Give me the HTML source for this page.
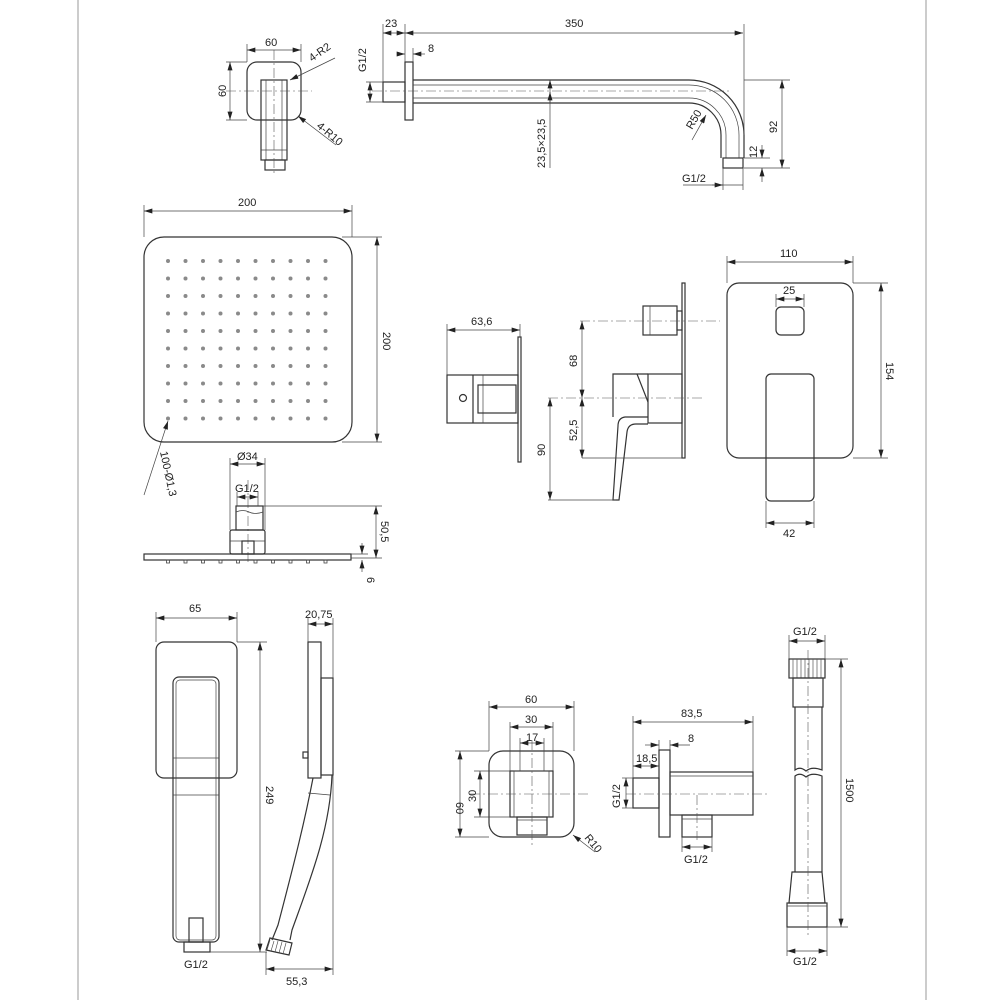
<!DOCTYPE html>
<html><head><meta charset="utf-8"><style>
html,body{margin:0;padding:0;background:#fff}
svg{display:block}
text{font-family:"Liberation Sans",sans-serif;font-size:11px;fill:#222}
.s{fill:none;stroke:#333;stroke-width:1.2}
.t{fill:none;stroke:#444;stroke-width:0.7}
.c{fill:none;stroke:#555;stroke-width:0.6;stroke-dasharray:10 3 2 3}
</style></head><body>
<svg width="1000" height="1000" viewBox="0 0 1000 1000" xmlns="http://www.w3.org/2000/svg">
<defs>
<marker id="a" viewBox="0 0 10 6" refX="10" refY="3" markerWidth="9" markerHeight="5" orient="auto-start-reverse" markerUnits="userSpaceOnUse"><path d="M0,0 L10,3 L0,6 z" fill="#222"/></marker>
</defs>
<g>
<line x1="78" y1="0" x2="78" y2="1000" stroke="#999" stroke-width="1"/>
<line x1="926" y1="0" x2="926" y2="1000" stroke="#999" stroke-width="1"/>
</g>

<!-- wall connector top-left -->
<rect class="s" x="247" y="62" width="54" height="58" rx="10"/>
<rect class="s" x="261" y="80" width="26" height="80"/>
<line class="t" x1="266" y1="80" x2="266" y2="160"/><line class="t" x1="282" y1="80" x2="282" y2="160"/>
<line class="t" x1="261" y1="150" x2="287" y2="150"/>
<rect class="s" x="265" y="160" width="20" height="10"/>
<line class="c" x1="274" y1="50" x2="274" y2="176"/>
<line class="c" x1="226" y1="91" x2="312" y2="91"/>
<line class="t" x1="247" y1="62" x2="247" y2="44"/><line class="t" x1="301" y1="62" x2="301" y2="44"/>
<line class="t" x1="247" y1="50" x2="301" y2="50" marker-start="url(#a)" marker-end="url(#a)"/>
<text x="265" y="46">60</text>
<line class="t" x1="247" y1="62" x2="226" y2="62"/><line class="t" x1="247" y1="120" x2="226" y2="120"/>
<line class="t" x1="230" y1="62" x2="230" y2="120" marker-start="url(#a)" marker-end="url(#a)"/>
<text transform="translate(226,97) rotate(-90)">60</text>
<line class="t" x1="335" y1="58" x2="290" y2="80" marker-end="url(#a)"/>
<text transform="translate(312,62) rotate(-35)">4-R2</text>
<line class="t" x1="336" y1="145" x2="298" y2="116" marker-end="url(#a)"/>
<text transform="translate(316,127) rotate(40)">4-R10</text>

<!-- shower arm -->
<rect class="s" x="383" y="82" width="22" height="20"/>
<rect class="s" x="405" y="62" width="8" height="58"/>
<path class="s" d="M413,80 H689 A55,55 0 0 1 744,135 V158"/>
<path class="s" d="M413,103 H689 A32,32 0 0 1 721,135 V158"/>
<path class="t" d="M413,85 H689 A50,50 0 0 1 739,135 V158"/>
<path class="t" d="M413,98 H689 A37,37 0 0 1 726,135 V158"/>
<rect class="s" x="723" y="158" width="20" height="10"/>
<line class="c" x1="372" y1="91" x2="730" y2="91"/>
<line class="t" x1="383" y1="82" x2="383" y2="24"/><line class="t" x1="405" y1="62" x2="405" y2="24"/>
<line class="t" x1="744" y1="135" x2="744" y2="24"/>
<line class="t" x1="383" y1="33" x2="405" y2="33" marker-start="url(#a)" marker-end="url(#a)"/>
<line class="t" x1="405" y1="33" x2="743" y2="33" marker-start="url(#a)" marker-end="url(#a)"/>
<text x="385" y="27">23</text><text x="565" y="27">350</text>
<line class="t" x1="413" y1="62" x2="413" y2="48"/>
<line class="t" x1="397" y1="54" x2="405" y2="54" marker-end="url(#a)"/>
<line class="t" x1="425" y1="54" x2="413" y2="54" marker-end="url(#a)"/>
<text x="428" y="52">8</text>
<line class="t" x1="383" y1="82" x2="366" y2="82"/><line class="t" x1="383" y1="102" x2="366" y2="102"/>
<line class="t" x1="370" y1="82" x2="370" y2="102" marker-start="url(#a)" marker-end="url(#a)"/>
<text transform="translate(366,72) rotate(-90)">G1/2</text>
<line class="t" x1="550" y1="80" x2="550" y2="168" marker-start="url(#a)"/>
<line class="t" x1="550" y1="103" x2="550" y2="92" marker-end="url(#a)"/>
<text transform="translate(545,168) rotate(-90)">23,5×23,5</text>
<line class="t" x1="692" y1="140" x2="706" y2="115" marker-end="url(#a)"/>
<text transform="translate(692,130) rotate(-60)">R50</text>
<line class="t" x1="744" y1="80" x2="790" y2="80"/><line class="t" x1="744" y1="168" x2="790" y2="168"/>
<line class="t" x1="744" y1="158" x2="770" y2="158"/>
<line class="t" x1="782" y1="80" x2="782" y2="168" marker-start="url(#a)" marker-end="url(#a)"/>
<text transform="translate(777,133) rotate(-90)">92</text>
<line class="t" x1="762" y1="145" x2="762" y2="158" marker-end="url(#a)"/>
<line class="t" x1="762" y1="182" x2="762" y2="168" marker-end="url(#a)"/>
<text transform="translate(757,158) rotate(-90)">12</text>
<line class="t" x1="723" y1="168" x2="723" y2="190"/><line class="t" x1="743" y1="168" x2="743" y2="190"/>
<line class="t" x1="683" y1="185" x2="743" y2="185"/>
<line class="t" x1="712" y1="185" x2="723" y2="185" marker-end="url(#a)"/>
<text x="682" y="182">G1/2</text>

<!-- head shower -->
<rect class="s" x="144" y="237" width="208" height="205" rx="20"/>
<g fill="#8a8a8a">
<circle cx="168" cy="261" r="2"/><circle cx="185.5" cy="261" r="2"/><circle cx="203" cy="261" r="2"/><circle cx="220.5" cy="261" r="2"/><circle cx="238" cy="261" r="2"/><circle cx="255.5" cy="261" r="2"/><circle cx="273" cy="261" r="2"/><circle cx="290.5" cy="261" r="2"/><circle cx="308" cy="261" r="2"/><circle cx="325.5" cy="261" r="2"/>
<circle cx="168" cy="278.5" r="2"/><circle cx="185.5" cy="278.5" r="2"/><circle cx="203" cy="278.5" r="2"/><circle cx="220.5" cy="278.5" r="2"/><circle cx="238" cy="278.5" r="2"/><circle cx="255.5" cy="278.5" r="2"/><circle cx="273" cy="278.5" r="2"/><circle cx="290.5" cy="278.5" r="2"/><circle cx="308" cy="278.5" r="2"/><circle cx="325.5" cy="278.5" r="2"/>
<circle cx="168" cy="296" r="2"/><circle cx="185.5" cy="296" r="2"/><circle cx="203" cy="296" r="2"/><circle cx="220.5" cy="296" r="2"/><circle cx="238" cy="296" r="2"/><circle cx="255.5" cy="296" r="2"/><circle cx="273" cy="296" r="2"/><circle cx="290.5" cy="296" r="2"/><circle cx="308" cy="296" r="2"/><circle cx="325.5" cy="296" r="2"/>
<circle cx="168" cy="313.5" r="2"/><circle cx="185.5" cy="313.5" r="2"/><circle cx="203" cy="313.5" r="2"/><circle cx="220.5" cy="313.5" r="2"/><circle cx="238" cy="313.5" r="2"/><circle cx="255.5" cy="313.5" r="2"/><circle cx="273" cy="313.5" r="2"/><circle cx="290.5" cy="313.5" r="2"/><circle cx="308" cy="313.5" r="2"/><circle cx="325.5" cy="313.5" r="2"/>
<circle cx="168" cy="331" r="2"/><circle cx="185.5" cy="331" r="2"/><circle cx="203" cy="331" r="2"/><circle cx="220.5" cy="331" r="2"/><circle cx="238" cy="331" r="2"/><circle cx="255.5" cy="331" r="2"/><circle cx="273" cy="331" r="2"/><circle cx="290.5" cy="331" r="2"/><circle cx="308" cy="331" r="2"/><circle cx="325.5" cy="331" r="2"/>
<circle cx="168" cy="348.5" r="2"/><circle cx="185.5" cy="348.5" r="2"/><circle cx="203" cy="348.5" r="2"/><circle cx="220.5" cy="348.5" r="2"/><circle cx="238" cy="348.5" r="2"/><circle cx="255.5" cy="348.5" r="2"/><circle cx="273" cy="348.5" r="2"/><circle cx="290.5" cy="348.5" r="2"/><circle cx="308" cy="348.5" r="2"/><circle cx="325.5" cy="348.5" r="2"/>
<circle cx="168" cy="366" r="2"/><circle cx="185.5" cy="366" r="2"/><circle cx="203" cy="366" r="2"/><circle cx="220.5" cy="366" r="2"/><circle cx="238" cy="366" r="2"/><circle cx="255.5" cy="366" r="2"/><circle cx="273" cy="366" r="2"/><circle cx="290.5" cy="366" r="2"/><circle cx="308" cy="366" r="2"/><circle cx="325.5" cy="366" r="2"/>
<circle cx="168" cy="383.5" r="2"/><circle cx="185.5" cy="383.5" r="2"/><circle cx="203" cy="383.5" r="2"/><circle cx="220.5" cy="383.5" r="2"/><circle cx="238" cy="383.5" r="2"/><circle cx="255.5" cy="383.5" r="2"/><circle cx="273" cy="383.5" r="2"/><circle cx="290.5" cy="383.5" r="2"/><circle cx="308" cy="383.5" r="2"/><circle cx="325.5" cy="383.5" r="2"/>
<circle cx="168" cy="401" r="2"/><circle cx="185.5" cy="401" r="2"/><circle cx="203" cy="401" r="2"/><circle cx="220.5" cy="401" r="2"/><circle cx="238" cy="401" r="2"/><circle cx="255.5" cy="401" r="2"/><circle cx="273" cy="401" r="2"/><circle cx="290.5" cy="401" r="2"/><circle cx="308" cy="401" r="2"/><circle cx="325.5" cy="401" r="2"/>
<circle cx="168" cy="418.5" r="2"/><circle cx="185.5" cy="418.5" r="2"/><circle cx="203" cy="418.5" r="2"/><circle cx="220.5" cy="418.5" r="2"/><circle cx="238" cy="418.5" r="2"/><circle cx="255.5" cy="418.5" r="2"/><circle cx="273" cy="418.5" r="2"/><circle cx="290.5" cy="418.5" r="2"/><circle cx="308" cy="418.5" r="2"/><circle cx="325.5" cy="418.5" r="2"/>
</g>
<line class="t" x1="144" y1="237" x2="144" y2="205"/><line class="t" x1="352" y1="237" x2="352" y2="205"/>
<line class="t" x1="144" y1="211" x2="352" y2="211" marker-start="url(#a)" marker-end="url(#a)"/>
<text x="238" y="206">200</text>
<line class="t" x1="342" y1="237" x2="382" y2="237"/><line class="t" x1="342" y1="442" x2="382" y2="442"/>
<line class="t" x1="377" y1="237" x2="377" y2="442" marker-start="url(#a)" marker-end="url(#a)"/>
<text transform="translate(383,332) rotate(90)">200</text>
<line class="t" x1="144" y1="495" x2="168" y2="421" marker-end="url(#a)"/>
<text transform="translate(160,452) rotate(78)">100-Ø1,3</text>
<!-- connector -->
<line class="c" x1="248" y1="480" x2="248" y2="565"/>
<rect class="s" x="236" y="506" width="27" height="24"/>
<path class="t" d="M236,512 Q243,509 249,512 T263,512"/>
<rect class="s" x="230" y="530" width="35" height="24" rx="2"/>
<line class="t" x1="230" y1="541" x2="265" y2="541"/>
<rect class="s" x="242" y="541" width="12" height="13"/>
<rect class="s" x="144" y="554" width="207" height="6"/>
<g fill="none" stroke="#444" stroke-width="0.8">
<rect x="166.5" y="560" width="3" height="3"/><rect x="184" y="560" width="3" height="3"/><rect x="201.5" y="560" width="3" height="3"/><rect x="219" y="560" width="3" height="3"/><rect x="236.5" y="560" width="3" height="3"/><rect x="254" y="560" width="3" height="3"/><rect x="271.5" y="560" width="3" height="3"/><rect x="289" y="560" width="3" height="3"/><rect x="306.5" y="560" width="3" height="3"/><rect x="324" y="560" width="3" height="3"/>
</g>
<line class="t" x1="230" y1="530" x2="230" y2="458"/><line class="t" x1="265" y1="530" x2="265" y2="458"/>
<line class="t" x1="230" y1="464" x2="265" y2="464" marker-start="url(#a)" marker-end="url(#a)"/>
<text x="237" y="460">Ø34</text>
<line class="t" x1="237" y1="506" x2="237" y2="492"/><line class="t" x1="258" y1="506" x2="258" y2="492"/>
<line class="t" x1="237" y1="497" x2="258" y2="497" marker-start="url(#a)" marker-end="url(#a)"/>
<text x="235" y="492">G1/2</text>
<line class="t" x1="263" y1="506" x2="382" y2="506"/><line class="t" x1="351" y1="558" x2="382" y2="558"/><line class="t" x1="351" y1="554" x2="368" y2="554"/>
<line class="t" x1="376" y1="506" x2="376" y2="558" marker-start="url(#a)" marker-end="url(#a)"/>
<text transform="translate(381,521) rotate(90)">50,5</text>
<line class="t" x1="362" y1="543" x2="362" y2="554" marker-end="url(#a)"/>
<line class="t" x1="362" y1="572" x2="362" y2="560" marker-end="url(#a)"/>
<text transform="translate(367,577) rotate(90)">6</text>

<!-- left mixer side -->
<rect class="s" x="518" y="337" width="3" height="125"/>
<rect class="s" x="447" y="375" width="71" height="48"/>
<line class="s" x1="473" y1="375" x2="473" y2="423"/>
<line class="t" x1="483" y1="375" x2="483" y2="423"/>
<rect class="s" x="478" y="385" width="38" height="28"/>
<circle class="s" cx="463" cy="398" r="3.5"/>
<line class="t" x1="447" y1="375" x2="447" y2="324"/><line class="t" x1="520" y1="337" x2="520" y2="324"/>
<line class="t" x1="447" y1="330" x2="520" y2="330" marker-start="url(#a)" marker-end="url(#a)"/>
<text x="471" y="325">63,6</text>

<!-- middle mixer side -->
<rect class="s" x="682" y="283" width="3" height="175"/>
<rect class="s" x="643" y="306" width="34" height="29"/>
<line class="t" x1="650" y1="306" x2="650" y2="335"/>
<rect class="s" x="677" y="311" width="5" height="19"/>
<rect class="s" x="648" y="374" width="34" height="49"/>
<path class="s" d="M648,374 H613 V417"/>
<path class="s" d="M637,374 L648,402"/>
<path class="s" d="M648,417 H625 Q618,418 618,426 L613,500 H619 L627,432 Q628,424 636,424 H648"/>
<line class="c" x1="580" y1="321" x2="720" y2="321"/>
<line class="c" x1="548" y1="398" x2="705" y2="398"/>
<line class="t" x1="582" y1="321" x2="582" y2="398" marker-start="url(#a)" marker-end="url(#a)"/>
<text transform="translate(577,367) rotate(-90)">68</text>
<line class="t" x1="582" y1="458" x2="682" y2="458"/>
<line class="t" x1="582" y1="398" x2="582" y2="458" marker-start="url(#a)" marker-end="url(#a)"/>
<text transform="translate(577,441) rotate(-90)">52,5</text>
<line class="t" x1="548" y1="500" x2="616" y2="500"/>
<line class="t" x1="550" y1="398" x2="550" y2="500" marker-start="url(#a)" marker-end="url(#a)"/>
<text transform="translate(545,456) rotate(-90)">90</text>

<!-- right mixer front -->
<rect class="s" x="727" y="283" width="126" height="175" rx="12"/>
<rect class="s" x="776" y="307" width="28" height="28" rx="5"/>
<rect class="s" x="766" y="374" width="48" height="127" rx="5"/>
<line class="t" x1="727" y1="283" x2="727" y2="256"/><line class="t" x1="853" y1="283" x2="853" y2="256"/>
<line class="t" x1="727" y1="262" x2="853" y2="262" marker-start="url(#a)" marker-end="url(#a)"/>
<text x="780" y="257">110</text>
<line class="t" x1="776" y1="307" x2="776" y2="294"/><line class="t" x1="804" y1="307" x2="804" y2="294"/>
<line class="t" x1="776" y1="299" x2="804" y2="299" marker-start="url(#a)" marker-end="url(#a)"/>
<text x="783" y="294">25</text>
<line class="t" x1="853" y1="283" x2="888" y2="283"/><line class="t" x1="853" y1="458" x2="888" y2="458"/>
<line class="t" x1="881" y1="283" x2="881" y2="458" marker-start="url(#a)" marker-end="url(#a)"/>
<text transform="translate(886,362) rotate(90)">154</text>
<line class="t" x1="766" y1="501" x2="766" y2="528"/><line class="t" x1="814" y1="501" x2="814" y2="528"/>
<line class="t" x1="766" y1="523" x2="814" y2="523" marker-start="url(#a)" marker-end="url(#a)"/>
<text x="783" y="537">42</text>

<!-- hand shower front -->
<rect class="s" x="156" y="642" width="81" height="136" rx="8"/>
<rect class="s" x="173" y="677" width="46" height="265" rx="6"/>
<rect class="t" x="176" y="680" width="40" height="260" rx="4"/>
<line class="t" x1="173" y1="758" x2="219" y2="758"/>
<line class="t" x1="173" y1="795" x2="219" y2="795"/>
<rect class="s" x="189" y="918" width="14" height="24"/>
<rect class="s" x="184" y="942" width="26" height="10"/>
<line class="t" x1="156" y1="642" x2="156" y2="612"/><line class="t" x1="237" y1="642" x2="237" y2="612"/>
<line class="t" x1="156" y1="618" x2="237" y2="618" marker-start="url(#a)" marker-end="url(#a)"/>
<text x="189" y="612">65</text>
<line class="t" x1="237" y1="642" x2="267" y2="642"/><line class="t" x1="210" y1="952" x2="267" y2="952"/>
<line class="t" x1="260" y1="642" x2="260" y2="952" marker-start="url(#a)" marker-end="url(#a)"/>
<text transform="translate(266,786) rotate(90)">249</text>
<text x="184" y="968">G1/2</text>

<!-- hand shower side -->
<rect class="s" x="308" y="642" width="13" height="136"/>
<rect class="s" x="321" y="678" width="12" height="97"/>
<path class="s" d="M313,778 C305,820 295,860 278,925 L272,940 M332,775 C330,830 310,880 292,930 L290,940"/>
<line class="t" x1="308" y1="793" x2="330" y2="795"/>
<rect class="s" x="303" y="752" width="5" height="6"/>
<path class="s" d="M270,938 L292,943 L289,955 L266,950 Z"/>
<g stroke="#444" stroke-width="0.6"><line x1="270" y1="940" x2="267" y2="950"/><line x1="274" y1="941" x2="271" y2="951"/><line x1="278" y1="941" x2="275" y2="952"/><line x1="282" y1="942" x2="279" y2="953"/><line x1="286" y1="943" x2="283" y2="954"/></g>
<line class="t" x1="308" y1="642" x2="308" y2="618"/><line class="t" x1="333" y1="678" x2="333" y2="618"/>
<line class="t" x1="308" y1="624" x2="333" y2="624" marker-start="url(#a)" marker-end="url(#a)"/>
<text x="305" y="618">20,75</text>
<line class="t" x1="266" y1="952" x2="266" y2="975"/><line class="t" x1="333" y1="775" x2="333" y2="975"/>
<line class="t" x1="266" y1="969" x2="333" y2="969" marker-start="url(#a)" marker-end="url(#a)"/>
<text x="286" y="985">55,3</text>

<!-- wall elbow front -->
<rect class="s" x="489" y="751" width="85" height="86" rx="14"/>
<rect class="s" x="510" y="771" width="43" height="46"/>
<rect class="t" x="514" y="771" width="35" height="46"/>
<rect class="s" x="517" y="817" width="30" height="18"/>
<line class="t" x1="517" y1="820" x2="547" y2="820"/>
<line class="c" x1="532" y1="740" x2="532" y2="848"/>
<line class="c" x1="470" y1="794" x2="590" y2="794"/>
<line class="t" x1="489" y1="751" x2="489" y2="701"/><line class="t" x1="574" y1="751" x2="574" y2="701"/>
<line class="t" x1="489" y1="707" x2="574" y2="707" marker-start="url(#a)" marker-end="url(#a)"/>
<text x="525" y="703">60</text>
<line class="t" x1="510" y1="771" x2="510" y2="722"/><line class="t" x1="553" y1="771" x2="553" y2="722"/>
<line class="t" x1="510" y1="727" x2="553" y2="727" marker-start="url(#a)" marker-end="url(#a)"/>
<text x="525" y="723">30</text>
<line class="t" x1="520" y1="771" x2="520" y2="738"/><line class="t" x1="544" y1="771" x2="544" y2="738"/>
<line class="t" x1="520" y1="743" x2="532" y2="743" marker-start="url(#a)"/>
<line class="t" x1="532" y1="743" x2="544" y2="743" marker-end="url(#a)"/>
<text x="526" y="741">17</text>
<line class="t" x1="489" y1="751" x2="455" y2="751"/><line class="t" x1="489" y1="837" x2="455" y2="837"/>
<line class="t" x1="460" y1="751" x2="460" y2="837" marker-start="url(#a)" marker-end="url(#a)"/>
<text transform="translate(456,802) rotate(90)">60</text>
<line class="t" x1="510" y1="771" x2="474" y2="771"/><line class="t" x1="510" y1="817" x2="474" y2="817"/>
<line class="t" x1="480" y1="771" x2="480" y2="817" marker-start="url(#a)" marker-end="url(#a)"/>
<text transform="translate(476,802) rotate(-90)">30</text>
<line class="t" x1="595" y1="852" x2="573" y2="835" marker-end="url(#a)"/>
<text transform="translate(584,838) rotate(50)">R10</text>

<!-- wall elbow side -->
<rect class="s" x="633" y="778" width="26" height="30"/>
<rect class="s" x="659" y="750" width="11" height="87"/>
<rect class="s" x="670" y="772" width="83" height="43"/>
<line class="t" x1="670" y1="776" x2="753" y2="776"/>
<rect class="s" x="682" y="815" width="30" height="22"/>
<line class="t" x1="682" y1="819" x2="712" y2="819"/>
<line class="c" x1="626" y1="794" x2="770" y2="794"/>
<line class="c" x1="697" y1="795" x2="697" y2="840"/>
<line class="t" x1="633" y1="778" x2="633" y2="716"/><line class="t" x1="753" y1="772" x2="753" y2="716"/>
<line class="t" x1="633" y1="722" x2="753" y2="722" marker-start="url(#a)" marker-end="url(#a)"/>
<text x="681" y="717">83,5</text>
<line class="t" x1="659" y1="750" x2="659" y2="740"/><line class="t" x1="670" y1="750" x2="670" y2="740"/>
<line class="t" x1="645" y1="745" x2="659" y2="745" marker-end="url(#a)"/>
<line class="t" x1="690" y1="745" x2="670" y2="745" marker-end="url(#a)"/>
<text x="688" y="742">8</text>
<line class="t" x1="633" y1="766" x2="659" y2="766" marker-start="url(#a)" marker-end="url(#a)"/>
<text x="636" y="762">18,5</text>
<line class="t" x1="633" y1="778" x2="622" y2="778"/><line class="t" x1="633" y1="808" x2="622" y2="808"/>
<line class="t" x1="626" y1="778" x2="626" y2="808" marker-start="url(#a)" marker-end="url(#a)"/>
<text transform="translate(620,808) rotate(-90)">G1/2</text>
<line class="t" x1="682" y1="837" x2="682" y2="852"/><line class="t" x1="712" y1="837" x2="712" y2="852"/>
<line class="t" x1="682" y1="847" x2="712" y2="847" marker-start="url(#a)" marker-end="url(#a)"/>
<text x="684" y="863">G1/2</text>

<!-- hose -->
<rect class="s" x="789" y="659" width="36" height="19"/>
<g stroke="#555" stroke-width="0.7"><line x1="793" y1="659" x2="793" y2="678"/><line x1="797" y1="659" x2="797" y2="678"/><line x1="801" y1="659" x2="801" y2="678"/><line x1="805" y1="659" x2="805" y2="678"/><line x1="809" y1="659" x2="809" y2="678"/><line x1="813" y1="659" x2="813" y2="678"/><line x1="817" y1="659" x2="817" y2="678"/><line x1="821" y1="659" x2="821" y2="678"/></g>
<rect class="s" x="793" y="678" width="30" height="29"/>
<path class="s" d="M795,707 V770 Q800,766 806,771 Q812,766 822,770 V707"/>
<path class="s" d="M795,872 V776 Q800,772 806,777 Q812,772 822,776 V872"/>
<path class="s" d="M792,872 H822 L825,903 H789 Z"/>
<rect class="s" x="787" y="903" width="40" height="24"/>
<line class="t" x1="787" y1="906" x2="827" y2="906"/>
<line class="c" x1="808" y1="650" x2="808" y2="935"/>
<line class="t" x1="789" y1="659" x2="789" y2="635"/><line class="t" x1="825" y1="659" x2="825" y2="635"/>
<line class="t" x1="789" y1="641" x2="825" y2="641" marker-start="url(#a)" marker-end="url(#a)"/>
<text x="793" y="635">G1/2</text>
<line class="t" x1="825" y1="659" x2="848" y2="659"/><line class="t" x1="827" y1="927" x2="848" y2="927"/>
<line class="t" x1="841" y1="659" x2="841" y2="927" marker-start="url(#a)" marker-end="url(#a)"/>
<text transform="translate(846,778) rotate(90)">1500</text>
<line class="t" x1="787" y1="927" x2="787" y2="956"/><line class="t" x1="827" y1="927" x2="827" y2="956"/>
<line class="t" x1="787" y1="951" x2="827" y2="951" marker-start="url(#a)" marker-end="url(#a)"/>
<text x="793" y="965">G1/2</text>
</svg>
</body></html>
